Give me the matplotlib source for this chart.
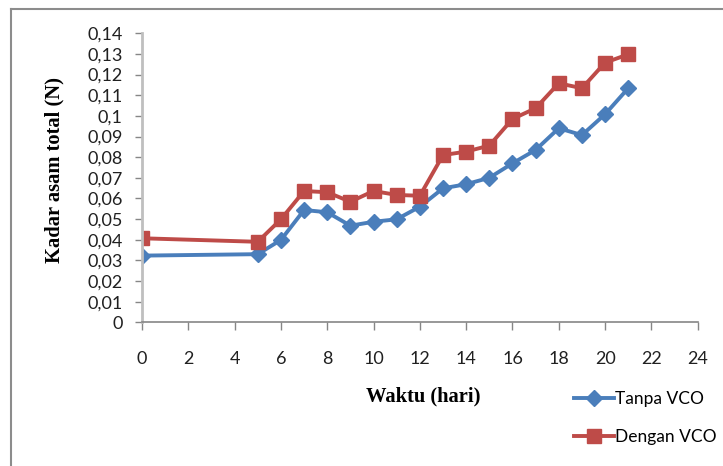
import matplotlib
matplotlib.use("Agg")
import matplotlib.pyplot as plt
from matplotlib.lines import Line2D
from matplotlib.ticker import FuncFormatter

# Days of storage
waktu = [0, 5, 6, 7, 8, 9, 10, 11, 12, 13, 14, 15, 16, 17, 18, 19, 20, 21]

# Total acid content (N)
tanpa_vco = [0.0323, 0.0330, 0.0399, 0.0544, 0.0533, 0.0468, 0.0487, 0.0499,
             0.0560, 0.0649, 0.0669, 0.0700, 0.0770, 0.0835, 0.0940, 0.0907,
             0.1008, 0.1134]
dengan_vco = [0.0407, 0.0390, 0.0499, 0.0636, 0.0630, 0.0584, 0.0636, 0.0617,
              0.0613, 0.0810, 0.0827, 0.0856, 0.0985, 0.1037, 0.1158, 0.1134,
              0.1258, 0.1298]

x_ticks = list(range(0, 25, 2))
y_ticks = [i / 100 for i in range(0, 15)]

tick_font = ["Lato", "DejaVu Sans"]
title_font = ["Liberation Serif", "DejaVu Serif"]

blue = "#4A7EBB"
red = "#BE4B48"

fig = plt.figure(figsize=(7.23, 4.66), dpi=100)
ax = fig.add_axes([0.1964, 0.3084, 0.965 - 0.1964, 0.9285 - 0.3084])

ax.plot(waktu, tanpa_vco, color=blue, lw=2.8, marker="D", markersize=8,
        label="Tanpa VCO", solid_joinstyle="round")
ax.plot(waktu, dengan_vco, color=red, lw=2.8, marker="s", markersize=9.5,
        label="Dengan VCO", solid_joinstyle="round")

ax.set_xlim(0, 24)
ax.set_ylim(0, 0.14)
ax.set_xticks(x_ticks)
ax.set_yticks(y_ticks)


def comma_fmt(v, pos):
    if abs(v) < 1e-12:
        return "0"
    s = ("%.2f" % v).rstrip("0").rstrip(".")
    return s.replace(".", ",")


ax.yaxis.set_major_formatter(FuncFormatter(comma_fmt))
ax.xaxis.set_major_formatter(FuncFormatter(lambda v, p: "%d" % v))

for lab in ax.get_xticklabels() + ax.get_yticklabels():
    lab.set_fontfamily(tick_font)
    lab.set_fontsize(13)
    lab.set_color("#202020")

ax.tick_params(axis="y", direction="out", length=5, width=1, color="#868686", pad=9)
ax.tick_params(axis="x", direction="out", length=6, width=1, color="#868686", pad=15)

for side in ("top", "right"):
    ax.spines[side].set_visible(False)
ax.spines["left"].set_color("#BFBFBF")
ax.spines["left"].set_linewidth(2)
ax.spines["bottom"].set_color("#868686")
ax.spines["bottom"].set_linewidth(1.2)

fig.text(0.076, 0.635, "Kadar asam total (N)", rotation=90, ha="center", va="center",
         fontfamily=title_font, fontweight="bold", fontsize=14.8)
fig.text(0.585, 0.150, "Waktu (hari)", ha="center", va="center",
         fontfamily=title_font, fontweight="bold", fontsize=14.8)

handles = [
    Line2D([], [], color=blue, lw=2.8, marker="D", markersize=8),
    Line2D([], [], color=red, lw=2.8, marker="s", markersize=9.5),
]
fig.legend(handles, ["Tanpa VCO", "Dengan VCO"], loc="upper left",
           bbox_to_anchor=(0.785, 0.176), frameon=False, handlelength=2.3,
           handletextpad=0.05, labelspacing=1.25, borderaxespad=0,
           prop={"family": tick_font, "size": 12.5})

# Chart area frame
fig.add_artist(Line2D([11 / 723, 1.0], [1 - 9 / 466, 1 - 9 / 466],
                      transform=fig.transFigure, color="#8C8C8C", lw=1.5))
fig.add_artist(Line2D([11 / 723, 11 / 723], [0.0, 1 - 9 / 466],
                      transform=fig.transFigure, color="#8C8C8C", lw=1.5))

fig.savefig("out.png", dpi=100)
